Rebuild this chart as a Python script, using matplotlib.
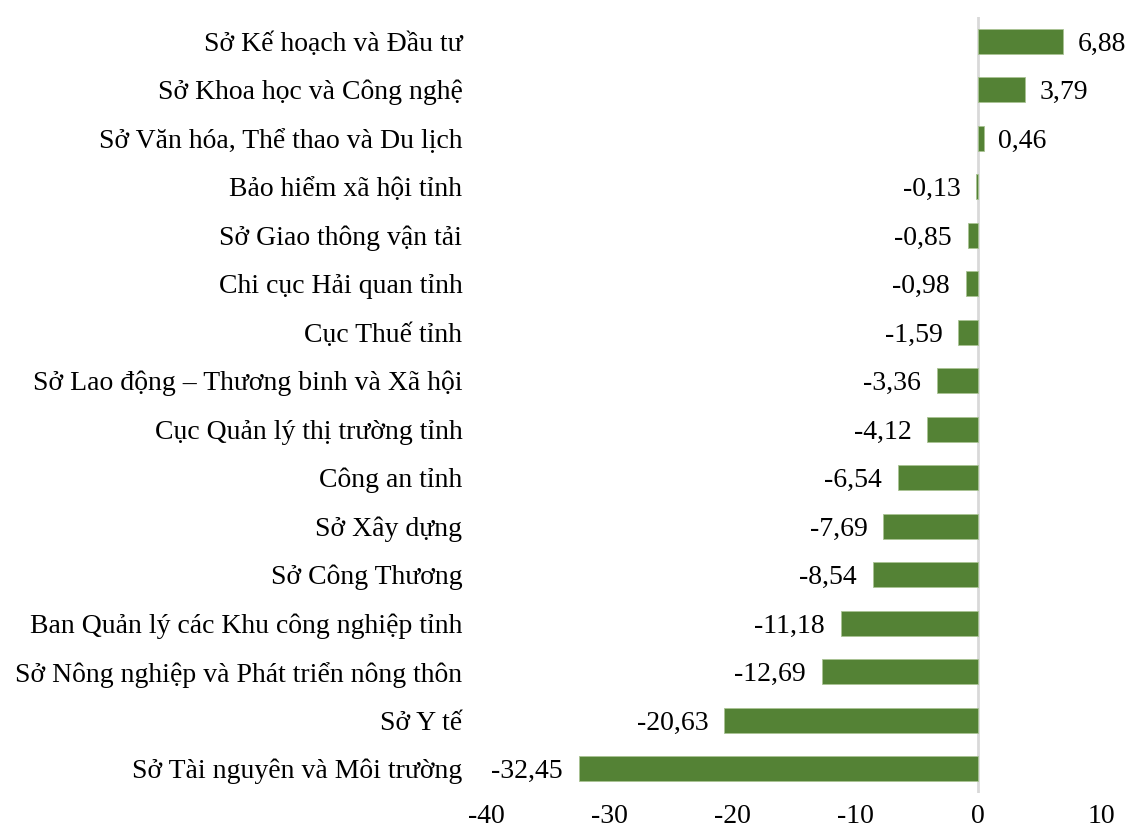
import matplotlib.pyplot as plt
import numpy as np

# Chỉ số theo từng đơn vị (từ trên xuống)
units = [
    "Sở Kế hoạch và Đầu tư",
    "Sở Khoa học và Công nghệ",
    "Sở Văn hóa, Thể thao và Du lịch",
    "Bảo hiểm xã hội tỉnh",
    "Sở Giao thông vận tải",
    "Chi cục Hải quan tỉnh",
    "Cục Thuế tỉnh",
    "Sở Lao động – Thương binh và Xã hội",
    "Cục Quản lý thị trường tỉnh",
    "Công an tỉnh",
    "Sở Xây dựng",
    "Sở Công Thương",
    "Ban Quản lý các Khu công nghiệp tỉnh",
    "Sở Nông nghiệp và Phát triển nông thôn",
    "Sở Y tế",
    "Sở Tài nguyên và Môi trường",
]
values = [6.88, 3.79, 0.46, -0.13, -0.85, -0.98, -1.59, -3.36,
          -4.12, -6.54, -7.69, -8.54, -11.18, -12.69, -20.63, -32.45]
xticks = [-40, -30, -20, -10, 0, 10]

plt.rcParams['font.family'] = ['Liberation Serif', 'DejaVu Serif']

fig = plt.figure(figsize=(11.29, 8.30), dpi=100)
ax = fig.add_axes([0.4305, 0.0446, 0.5447, 0.935])

y = np.arange(len(units))
ax.barh(y, values, height=0.52, color='#548235', edgecolor='#a9c394',
        linewidth=0.6, zorder=2)
ax.axvline(0, color='#d9d9d9', linewidth=2, zorder=1)

# nhãn giá trị cạnh mỗi thanh
for yi, v in zip(y, values):
    txt = f"{v:.2f}".replace('.', ',')
    if v >= 0:
        ax.text(v + 1.2, yi, txt, va='center_baseline', ha='left', fontsize=20)
    else:
        ax.text(v - 1.3, yi, txt, va='center_baseline', ha='right', fontsize=20)

ax.set_ylim(len(units) - 0.5, -0.5)
ax.set_xlim(-40, 10)
ax.set_yticks(y)
ax.set_yticklabels(units, fontsize=20, va='center_baseline')
ax.set_xticks(xticks)
ax.set_xticklabels([str(t) for t in xticks], fontsize=20)
ax.tick_params(axis='y', length=0, pad=17)
ax.tick_params(axis='x', length=0, pad=8)
for s in ax.spines.values():
    s.set_visible(False)

fig.savefig('out.png', dpi=100)
